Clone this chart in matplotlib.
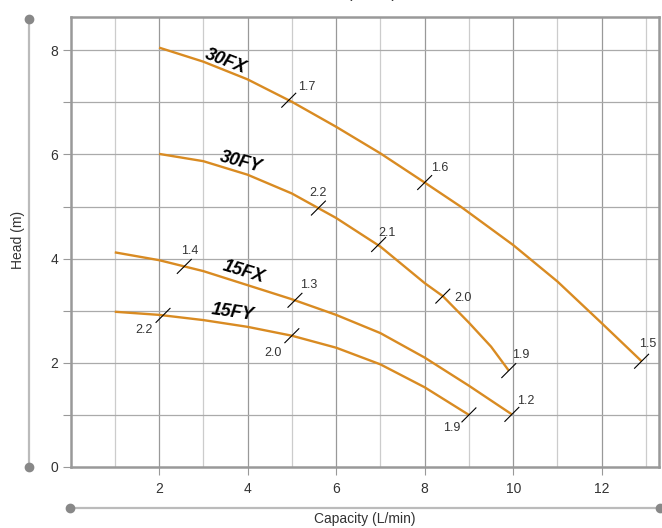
import matplotlib
matplotlib.use('Agg')
import matplotlib.pyplot as plt
from matplotlib.lines import Line2D

plt.rcParams['font.family'] = ['Liberation Sans', 'DejaVu Sans']

# performance curves (capacity L/min, head m)
fx30_q = [2, 3, 4, 5, 6, 7, 8, 8.81, 10, 11, 12, 12.9]
fx30_h = [8.05, 7.78, 7.44, 7.01, 6.53, 6.02, 5.46, 5.0, 4.26, 3.56, 2.76, 2.03]
fy30_q = [2, 3, 4, 5, 6, 7, 8, 8.41, 9, 9.5, 9.9]
fy30_h = [6.01, 5.87, 5.61, 5.25, 4.78, 4.23, 3.53, 3.28, 2.77, 2.31, 1.85]
fx15_q = [1, 2, 3, 4, 5, 6, 7, 8, 9, 9.97]
fx15_h = [4.12, 3.97, 3.76, 3.49, 3.22, 2.92, 2.57, 2.1, 1.56, 1.01]
fy15_q = [1, 2, 3, 4, 5, 6, 7, 8, 9]
fy15_h = [2.98, 2.92, 2.82, 2.69, 2.52, 2.29, 1.97, 1.53, 1.0]

# power marks along the curves: capacity, head, value
mark_q = [4.93, 8.0, 12.9, 5.6, 6.96, 8.41, 9.9, 2.57, 5.07, 9.97, 2.09, 5.0, 9.0]
mark_h = [7.04, 5.46, 2.03, 4.97, 4.27, 3.28, 1.85, 3.85, 3.2, 1.01, 2.91, 2.52, 1.0]
mark_txt = ['1.7', '1.6', '1.5', '2.2', '2.1', '2.0', '1.9',
            '1.4', '1.3', '1.2', '2.2', '2.0', '1.9']
# label offsets in pixels from the mark centre
mark_off = [(18, 13), (15, 15), (6, 17), (0, 15), (8, 12), (20, -2), (12, 16),
            (5, 15), (14, 15), (14, 13), (-19, -15), (-19, -17), (-17, -13)]

curve_names = ['30FX', '30FY', '15FX', '15FY']
name_pos = [(3.51, 7.79, -21), (3.85, 5.85, -15), (3.92, 3.74, -17), (3.67, 2.96, -8)]

W, H = 662, 528
fig = plt.figure(figsize=(W / 100, H / 100), dpi=100)
L, R, B, T = 70.5, 659, 467, 17
ax = fig.add_axes([L / W, 1 - B / H, (R - L) / W, (B - T) / H])

ax.set_xlim(0, (R - L) / 44.27)
ax.set_ylim(0, (B - T) / 52.1)

orange = '#D98B22'
for q, h in [(fx30_q, fx30_h), (fy30_q, fy30_h), (fx15_q, fx15_h), (fy15_q, fy15_h)]:
  ax.plot(q, h, color=orange, lw=1.7, solid_capstyle='butt', solid_joinstyle='round', zorder=3)

# grid
for x in range(1, 14):
  ax.axvline(x, color='#999999' if x % 2 == 0 else '#cccccc', lw=0.9, zorder=1)
for y in range(1, 9):
  ax.axhline(y, color='#aaaaaa', lw=0.9, zorder=1)

# small diagonal marks + values
dx, dy = 7 / 44.27, 7 / 52.1
for q, h, t, off in zip(mark_q, mark_h, mark_txt, mark_off):
  ax.plot([q - dx, q + dx], [h - dy, h + dy], color='black', lw=0.8, zorder=4)
  ax.annotate(t, (q, h), xytext=(off[0] * 0.72, off[1] * 0.72), textcoords='offset points',
              ha='center', va='center', fontsize=9, color='#333333')

for name, (x, y, rot) in zip(curve_names, name_pos):
  ax.text(x, y, name, fontsize=13, fontweight='bold', fontstyle='italic',
          rotation=rot, ha='center', va='center', rotation_mode='anchor', zorder=5)

# axes styling
for s in ax.spines.values():
  s.set_color('#999999')
  s.set_linewidth(1.8)
ax.set_xticks([2, 4, 6, 8, 10, 12])
ax.set_yticks(range(0, 9))
ax.set_yticklabels([str(v) if v % 2 == 0 else '' for v in range(0, 9)])
ax.tick_params(axis='both', length=5.8, width=0.8, color='#999999', labelsize=10,
               labelcolor='#333333')
ax.tick_params(axis='x', pad=5)
ax.tick_params(axis='y', pad=3)

# decorative axis lines with end dots
fig.add_artist(Line2D([29 / W, 29 / W], [1 - 19 / H, 1 - 467 / H], color='#bbbbbb', lw=1.6))
fig.add_artist(Line2D([29 / W, 29 / W], [1 - 19 / H, 1 - 467 / H], ls='none', marker='o',
                      markersize=6, color='#888888'))
fig.add_artist(Line2D([70 / W, 660 / W], [1 - 508 / H, 1 - 508 / H], color='#bbbbbb', lw=1.6))
fig.add_artist(Line2D([70 / W, 660 / W], [1 - 508 / H, 1 - 508 / H], ls='none', marker='o',
                      markersize=6, color='#888888'))

fig.text(18 / W, 1 - 240 / H, 'Head (m)', rotation=90, ha='center', va='center',
         fontsize=10, color='#333333')
fig.text(365 / W, 1 - 519 / H, 'Capacity (L/min)', ha='center', va='center',
         fontsize=10, color='#333333')
# title sits mostly above the canvas, as in the reference
fig.text(372 / W, 1 - 1 / H, '(50Hz)', ha='center', va='bottom', fontsize=12, color='#333333')

fig.savefig('out.png', dpi=100)
